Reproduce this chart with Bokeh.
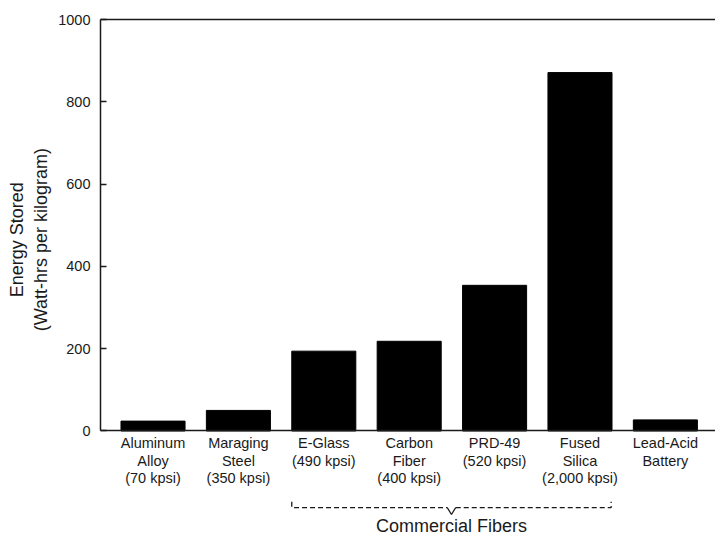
from math import pi
from bokeh.plotting import figure
from bokeh.models import LinearAxis, FixedTicker, Range1d, ColumnDataSource
from bokeh.core.properties import value
from bokeh.embed import file_html
from bokeh.resources import INLINE

# ---- data ----
categories = [
    "Aluminum\nAlloy\n(70 kpsi)",
    "Maraging\nSteel\n(350 kpsi)",
    "E-Glass\n(490 kpsi)",
    "Carbon\nFiber\n(400 kpsi)",
    "PRD-49\n(520 kpsi)",
    "Fused\nSilica\n(2,000 kpsi)",
    "Lead-Acid\nBattery",
]
energy = [24, 50, 194, 218, 354, 871, 27]
y_ticks = [0, 200, 400, 600, 800, 1000]
group_label = "Commercial Fibers"
group_first, group_last = 2, 5
y_title = ["Energy Stored", "(Watt-hrs per kilogram)"]

FONT = "Liberation Sans"
INK = "#1a1a1a"

xs = list(range(len(categories)))
X0, X1 = -0.615, 6.587      # visible plotting area (left axis .. right edge)
YMAX = y_ticks[-1]

p = figure(width=715, height=539, output_backend="svg", toolbar_location=None,
           x_range=Range1d(-1.786, X1), y_range=Range1d(-263.7, 1046.2),
           min_border_left=0, min_border_right=0, min_border_top=0, min_border_bottom=0,
           x_axis_location=None, y_axis_location=None)
p.outline_line_color = None
p.background_fill_color = "white"
p.border_fill_color = "white"
p.grid.visible = False

yaxis = LinearAxis(ticker=FixedTicker(ticks=y_ticks), bounds=(0, YMAX),
                   fixed_location=X0,
                   major_tick_in=6, major_tick_out=0,
                   minor_tick_line_color=None,
                   major_label_standoff=10,
                   axis_line_width=1.5, axis_line_color=INK,
                   major_tick_line_color=INK, major_tick_line_width=1.5,
                   major_label_text_font=FONT, major_label_text_font_size="14.5px",
                   major_label_text_color=INK)
p.add_layout(yaxis, "left")

xaxis = LinearAxis(ticker=FixedTicker(ticks=xs), bounds=(X0, X1),
                   major_label_overrides={i: c for i, c in enumerate(categories)},
                   fixed_location=0,
                   major_tick_in=0, major_tick_out=0,
                   major_tick_line_color=None, minor_tick_line_color=None,
                   major_label_standoff=4,
                   axis_line_width=1.5, axis_line_color=INK,
                   major_label_text_font=FONT, major_label_text_font_size="14.5px",
                   major_label_text_color=INK, major_label_text_line_height=1.1)
p.add_layout(xaxis, "below")

# top border line
p.segment(x0=[X0], y0=[YMAX], x1=[X1], y1=[YMAX], line_color=INK, line_width=1.5)

src = ColumnDataSource(dict(x=xs, top=energy))
p.vbar(x="x", top="top", bottom=0, width=0.75, source=src,
       fill_color="black", line_color="black")

# bracket for commercial fibers
xl, xr = group_first - 0.375, group_last + 0.365
xm = (xl + xr) / 2
yb, yt, yv, dv = -186, -172, -203, 0.05
p.multi_line(xs=[[xl, xl, xm - dv], [xm + dv, xr, xr]],
             ys=[[yt, yb, yb], [yb, yb, yt]],
             line_color=INK, line_width=1.3, line_dash="5 3")
p.line([xm - dv, xm, xm + dv], [yb, yv, yb], line_color=INK, line_width=1.3)
p.text(x=[xm], y=[-232], text=[group_label], text_font=value(FONT),
       text_font_size="18px", text_align="center", text_baseline="middle",
       text_color=INK)

# vertical axis title, two lines
p.text(x=[-1.587, -1.306], y=[465, 465], text=y_title, angle=pi / 2,
       text_font=value(FONT), text_font_size="18px", text_align="center",
       text_baseline="middle", text_color=INK)

open("out.html", "w").write(file_html(p, INLINE))
